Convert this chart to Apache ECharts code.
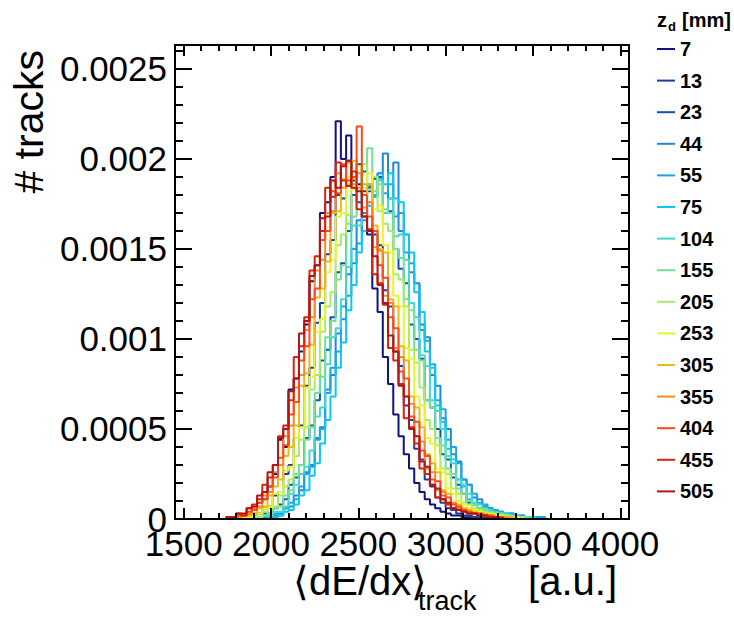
<!DOCTYPE html>
<html><head><meta charset="utf-8">
<script src="https://cdn.jsdelivr.net/npm/echarts@6/dist/echarts.min.js"></script>
<style>html,body{margin:0;padding:0;background:#fff}#c{width:734px;height:633px}</style>
</head><body><div id="c"></div>
<script>
// legend labels (z_d in mm) and colours
const zdLabels = ['7','13','23','44','55','75','104','155','205','253','305','355','404','455','505'];
const colors = ['#10127e','#1c3c9e','#0c52b2','#1f88d8','#20a2e6','#08c8f6','#40d8cc','#72e098','#a8ec66','#e6f62a','#f0b812','#f88a26','#ff4a18','#de220a','#b01616'];

// histogram binning (x in a.u.), values in units of 1e-5
const binLow = 1740, binWidth = 30, yUnit = 1e-5;

const h7   = [0,0,1,2,2,5,9,11,18,25, 44,40,72,78,93,108,132,141,170,176, 190,221,200,213,190,186,160,158,128,115, 90,75,58,46,36,28,20,15,11,8, 6,4,3,2,2,1,1,1,0,0, 0,0,0,0,0,0,0,0,0,0, 0,0,0];
const h13  = [0,0,0,1,1,3,3,6,7,13, 15,25,30,45,52,74,84,109,120,147, 155,180,178,199,188,197,182,182,158,152, 127,118,93,85,63,55,39,33,22,18, 12,9,6,5,3,2,2,1,1,1, 0,0,0,0,0,0,0,0,0,0, 0,0,0];
const h23  = [0,0,0,0,0,1,1,3,3,6, 8,11,19,23,30,45,52,66,88,94, 112,137,142,160,180,176,193,184,189,190, 170,171,150,139,131,108,100,89,66,62, 50,36,33,23,19,14,9,8,6,5, 4,3,3,2,2,1,1,1,1,0, 0,0,0];
const h44  = [0,0,0,0,0,0,0,1,1,2, 3,6,7,13,16,26,30,45,51,72, 80,103,111,136,142,166,170,186,180,192, 203,178,198,160,158,137,131,108,101,80, 74,56,50,36,32,22,19,12,11,7, 6,5,4,3,3,2,2,1,1,1, 1,0,0];
const h55  = [0,0,0,0,0,0,0,1,1,3, 2,6,9,11,18,25,29,44,50,70, 84,93,118,124,150,153,166,185,179,192, 181,186,168,170,148,142,131,105,99,86, 66,61,44,40,31,22,19,14,9,8, 6,5,4,3,3,2,2,1,1,1, 1,0,0];
const h75  = [0,0,0,0,0,0,0,0,1,1, 2,4,5,8,13,16,24,31,42,55, 68,84,98,116,130,148,160,174,180,189, 186,192,178,176,158,148,126,115,93,84, 63,54,39,33,22,18,11,9,6,4, 3,3,2,2,1,1,1,0,0,0, 0,0,0];
const h104 = [0,0,0,0,0,0,1,2,2,4, 4,7,14,19,25,29,38,57,62,86, 101,106,122,140,163,163,186,176,190,188, 170,178,157,158,144,120,112,91,85,66, 60,50,35,31,22,19,14,9,8,6, 5,4,3,3,2,2,1,1,1,0, 0,0,0];
const h155 = [0,0,0,0,0,1,1,2,3,6, 7,13,16,25,30,44,51,70,79,101, 110,133,141,164,168,184,180,206,182,186, 172,170,150,145,122,116,94,88,66,62, 45,41,28,25,17,14,10,8,6,5, 4,3,3,2,2,1,1,1,0,0, 0,0,0];
const h205 = [0,0,0,0,1,2,1,4,6,7, 13,18,22,35,44,51,72,80,104,118, 126,152,158,169,189,184,197,183,190,171, 164,160,136,133,118,94,87,73,55,50, 41,28,25,17,14,9,8,6,5,4, 3,3,2,2,1,1,1,0,0,0, 0,0,0];
const h253 = [0,0,0,1,1,3,3,6,7,14, 15,27,29,45,51,73,79,104,111,137, 144,168,170,190,183,196,184,192,172,174, 152,148,124,118,95,89,68,63,45,42, 28,26,17,14,10,8,6,5,4,3, 3,2,2,1,1,1,0,0,0,0, 0,0,0];
const h305 = [0,0,1,2,2,3,6,7,13,18, 22,35,40,52,74,81,97,123,128,143, 170,171,189,186,199,184,180,186,163,150, 148,122,118,96,88,68,62,51,36,31, 26,16,14,9,8,6,5,4,3,3, 2,2,1,1,1,0,0,0,0,0, 0,0,0];
const h355 = [0,1,1,2,3,6,7,13,15,26, 30,46,52,73,80,105,112,138,144,170, 171,192,184,198,186,192,173,176,151,149, 124,120,95,90,68,64,46,43,28,26, 16,15,9,9,6,5,4,3,3,2, 2,1,1,1,0,0,0,0,0,0, 0,0,0];
const h404 = [1,1,2,2,4,5,9,11,18,23, 34,41,58,65,88,96,122,128,155,160, 182,181,197,188,190,218,180,168,160,141, 134,112,106,82,78,57,54,38,35,22, 21,13,12,8,7,5,4,3,3,2, 2,1,1,0,0,0,0,0,0,0, 0,0,0];
const h455 = [1,1,3,2,6,8,11,19,23,30, 46,52,66,90,96,112,138,146,160,184, 179,198,188,185,193,172,168,161,136,131, 119,95,88,75,56,51,42,28,25,19, 12,11,8,6,5,4,3,3,2,2, 1,1,1,0,0,0,0,0,0,0, 0,0,0];
const h505 = [1,1,3,3,6,7,13,15,26,30, 45,50,71,78,103,110,135,141,167,168, 188,184,196,199,184,182,168,160,146,130, 120,102,93,74,68,50,46,32,29,19, 17,11,9,6,5,4,3,3,2,2, 1,1,0,0,0,0,0,0,0,0, 0,0,0];

const hists = [h7,h13,h23,h44,h55,h75,h104,h155,h205,h253,h305,h355,h404,h455,h505];

// axes
const xMin = 1450, xMax = 4050;
const yMin = 0, yMax = 0.002633;
const xMajor = [1500,2000,2500,3000,3500,4000];
const xTickLabels = ['1500','2000','2500','3000','3500','4000'];
const yMajor = [0,0.0005,0.001,0.0015,0.002,0.0025];
const yTickLabels = ['0','0.0005','0.001','0.0015','0.002','0.0025'];
const xMinor = []; for (let v = 1500; v <= 4000; v += 100) xMinor.push(v);
const yMinor = []; for (let k = 0; k <= 26; k++) yMinor.push(+(k * 0.0001).toFixed(5));

const FONT = '"Liberation Sans", Arial, Helvetica, sans-serif';

function mkX(pos, ticks, len, labels) {
  return {
    type: 'value', position: pos, min: xMin, max: xMax, z: 10,
    axisLine: {show: true, onZero: false, lineStyle: {color: '#000', width: 2}},
    axisTick: {show: true, inside: true, length: len, customValues: ticks, lineStyle: {color: '#000', width: 2}},
    axisLabel: labels ? {show: true, customValues: xMajor, margin: 12, fontSize: 35, lineHeight: 24, fontFamily: FONT, color: '#000',
      formatter: (v) => xTickLabels[xMajor.indexOf(v)] ?? ''} : {show: false},
    splitLine: {show: false}, minorTick: {show: false}
  };
}
function mkY(pos, ticks, len, labels) {
  return {
    type: 'value', position: pos, min: yMin, max: yMax, z: 10,
    axisLine: {show: true, onZero: false, lineStyle: {color: '#000', width: 2}},
    axisTick: {show: true, inside: true, length: len, customValues: ticks, lineStyle: {color: '#000', width: 2}},
    axisLabel: labels ? {show: true, customValues: yMajor, margin: 8, fontSize: 35, lineHeight: 20, fontFamily: FONT, color: '#000',
      formatter: (v) => { const j = yMajor.findIndex(t => Math.abs(t - v) < 1e-9); return j >= 0 ? yTickLabels[j] : ''; }} : {show: false},
    splitLine: {show: false}, minorTick: {show: false}
  };
}

const series = hists.map((h, s) => {
  const data = h.map((v, i) => [binLow + i * binWidth, v * yUnit]);
  data.push([binLow + h.length * binWidth, h[h.length - 1] * yUnit]);
  return {
    name: zdLabels[s], type: 'line', step: 'end', data: data,
    showSymbol: false, symbol: 'none', color: colors[s],
    lineStyle: {width: 2, color: colors[s]}, silent: true, clip: true
  };
});

const T = (x, y, text, font, align, extra) => Object.assign({type: 'text', x: x, y: y,
  style: {text: text, font: font, fill: '#000', align: align, textAlign: align, verticalAlign: 'middle', textVerticalAlign: 'middle', lineHeight: 28}}, extra || {});

const chart = echarts.init(document.getElementById('c'), null, {renderer: 'svg'});
chart.setOption({
  animation: false,
  backgroundColor: '#fff',
  grid: {left: 175, top: 45, right: 105, bottom: 114, containLabel: false},
  xAxis: [mkX('bottom', xMajor, 11, true), mkX('bottom', xMinor, 6, false), mkX('top', xMajor, 11, false), mkX('top', xMinor, 6, false)],
  yAxis: [mkY('left', yMajor, 17, true), mkY('left', yMinor, 8, false), mkY('right', yMajor, 17, false), mkY('right', yMinor, 8, false)],
  legend: {
    orient: 'vertical', left: 657, top: 39, padding: 0, itemWidth: 18, itemHeight: 2, itemGap: 11.6, icon: 'rect',
    data: zdLabels, selectedMode: false,
    textStyle: {fontSize: 20, fontWeight: 'bold', color: '#000', fontFamily: FONT, lineHeight: 20}
  },
  graphic: [
    T(29, 50, '# tracks', '41px ' + FONT, 'right', {rotation: Math.PI / 2}),
    T(293, 581, '\u27E8dE/dx\u27E9', '40px ' + FONT, 'left'),
    T(418, 601, 'track', '27px ' + FONT, 'left'),
    T(617, 581, '[a.u.]', '40px ' + FONT, 'right'),
    T(657, 20, 'z', 'bold 20px ' + FONT, 'left'),
    T(668, 26, 'd', 'bold 13px ' + FONT, 'left'),
    T(682, 20, '[mm]', 'bold 20px ' + FONT, 'left')
  ],
  series: series
});
</script></body></html>
